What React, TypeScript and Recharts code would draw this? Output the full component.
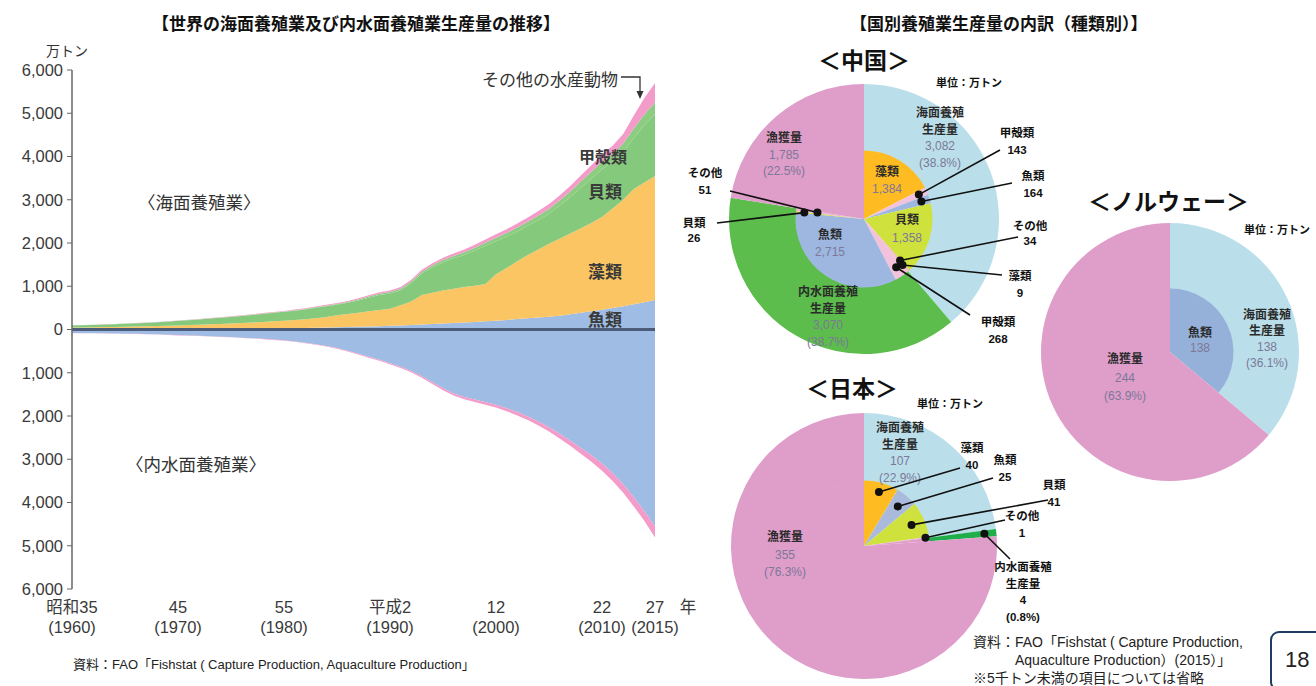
import React from "react";
import { AreaChart, Area, XAxis, YAxis, ReferenceLine, PieChart, Pie, Cell } from "recharts";

const FONT = '"Liberation Sans", Arial, "Noto Sans CJK JP", sans-serif';

// ---- world aquaculture (万トン), 1960-2015 ----
const years = [
  1960, 1961, 1962, 1963, 1964, 1965, 1966, 1967, 1968, 1969,
  1970, 1971, 1972, 1973, 1974, 1975, 1976, 1977, 1978, 1979,
  1980, 1981, 1982, 1983, 1984, 1985, 1986, 1987, 1988, 1989,
  1990, 1991, 1992, 1993, 1994, 1995, 1996, 1997, 1998, 1999,
  2000, 2001, 2002, 2003, 2004, 2005, 2006, 2007, 2008, 2009,
  2010, 2011, 2012, 2013, 2014, 2015,
];
// marine
const seaFish = [
  8, 9, 10, 10, 11, 12, 12, 13, 14, 15,
  16, 17, 18, 19, 21, 22, 24, 25, 27, 29,
  31, 34, 37, 41, 45, 50, 56, 62, 70, 78,
  86, 95, 105, 115, 126, 138, 150, 163, 176, 190,
  205, 222, 240, 258, 276, 295, 320, 350, 385, 420,
  455, 495, 540, 585, 630, 680,
];
const seaweed = [
  37, 39, 42, 46, 49, 53, 58, 63, 68, 73,
  79, 86, 94, 102, 109, 118, 126, 137, 148, 159,
  169, 184, 201, 219, 245, 280, 304, 328, 350, 372,
  394, 465, 545, 685, 724, 762, 790, 817, 834, 860,
  1075, 1198, 1340, 1462, 1574, 1685, 1780, 1870, 1955, 2040,
  2145, 2305, 2460, 2665, 2770, 2870,
];
const shellfish = [
  50, 52, 53, 58, 63, 68, 72, 76, 84, 92,
  105, 110, 121, 131, 141, 150, 163, 176, 186, 197,
  208, 218, 226, 241, 247, 243, 258, 282, 315, 348,
  353, 348, 420, 492, 584, 655, 705, 745, 814, 883,
  762, 730, 688, 676, 683, 698, 760, 838, 935, 1025,
  1105, 1075, 1100, 1180, 1325, 1430,
];
const crustacean = [
  2, 2, 2, 2, 3, 3, 3, 3, 4, 4,
  4, 5, 5, 5, 6, 6, 7, 7, 8, 8,
  9, 10, 11, 12, 14, 16, 19, 22, 26, 30,
  32, 34, 38, 42, 46, 50, 55, 60, 66, 72,
  78, 84, 90, 96, 102, 110, 120, 132, 145, 160,
  175, 185, 200, 220, 245, 270,
];
const seaOther = [
  3, 3, 3, 4, 4, 4, 5, 5, 5, 6,
  6, 7, 7, 8, 8, 9, 10, 10, 11, 12,
  13, 14, 15, 17, 19, 21, 23, 26, 29, 32,
  35, 38, 42, 46, 50, 55, 60, 65, 70, 75,
  80, 86, 92, 98, 105, 112, 120, 130, 140, 155,
  170, 190, 220, 300, 380, 450,
];
// inland (drawn downward)
const inlandFish = [
  -80, -82, -85, -88, -92, -96, -100, -105, -112, -120,
  -130, -138, -146, -155, -165, -175, -188, -200, -215, -232,
  -250, -275, -305, -340, -380, -430, -490, -560, -630, -700,
  -780, -860, -960, -1080, -1220, -1360, -1480, -1560, -1620, -1680,
  -1740, -1820, -1910, -2010, -2130, -2260, -2410, -2570, -2740, -2910,
  -3100, -3320, -3580, -3880, -4200, -4550,
];
const inlandOther = [
  -4, -4, -4, -4, -4, -5, -5, -5, -5, -5,
  -6, -6, -6, -7, -7, -7, -8, -8, -9, -9,
  -10, -11, -12, -13, -14, -15, -17, -19, -21, -23,
  -25, -28, -31, -34, -38, -42, -46, -50, -55, -60,
  -65, -70, -76, -82, -90, -98, -108, -120, -135, -150,
  -165, -180, -195, -210, -230, -260,
];

const yearTicks = [1960, 1970, 1980, 1990, 2000, 2010, 2015];
const eraLabels = ["昭和35", "45", "55", "平成2", "12", "22", "27"];
const valueTicks = [-6000, -5000, -4000, -3000, -2000, -1000, 0, 1000, 2000, 3000, 4000, 5000, 6000];

const trend = years.map((y, i) => ({
  year: y,
  seaFish: seaFish[i],
  seaweed: seaweed[i],
  shellfish: shellfish[i],
  crustacean: crustacean[i],
  seaOther: seaOther[i],
  inlandFish: inlandFish[i],
  inlandOther: inlandOther[i],
}));

// ---- country breakdown (万トン) ----
const totalNames = ["海面養殖\n生産量", "内水面養殖\n生産量", "漁獲量"];
const kinds = ["藻類", "甲殻類", "魚類", "貝類", "その他"];

const chinaTotals = [3082, 3070, 1785];
const chinaPct = ["38.8%", "38.7%", "22.5%"];
const chinaSea = [1384, 143, 164, 1358, 34];
const chinaInland = [9, 268, 2715, 26, 51];

const norwayTotals = [138, 244];
const norwayPct = ["36.1%", "63.9%"];
const norwaySeaKinds = ["魚類"];
const norwaySea = [138];

const japanTotals = [107, 4, 355];
const japanPct = ["22.9%", "0.8%", "76.3%"];
const japanSeaKinds = ["藻類", "魚類", "貝類", "その他"];
const japanSea = [40, 25, 41, 1];

const KIND_COLORS: Record<string, string> = {
  藻類: "#ffbb22",
  甲殻類: "#f2c2dc",
  魚類: "#9db7e0",
  貝類: "#cfe13c",
  その他: "#efb3d4",
};
const SEA_COLOR = "#badfea";
const CATCH_COLOR = "#df9dca";

const fmt = (v: number) => v.toLocaleString("en-US");

type Spot = { dx: number; dy: number; lh?: number; dot?: number; ex?: number; ey?: number; out?: boolean } | null;

const makeLabel = (spots: Spot[], texts: string[][]) => (p: any) => {
  const s = spots[p.index];
  if (!s) return null;
  const lines = texts[p.index] || [];
  const lh = s.lh || 16.5;
  let lead = null;
  if (s.dot) {
    const a = (-p.midAngle * Math.PI) / 180;
    const px = p.cx + s.dot * Math.cos(a);
    const py = p.cy + s.dot * Math.sin(a);
    lead = (
      <g>
        <line x1={px} y1={py} x2={p.cx + (s.ex || 0)} y2={p.cy + (s.ey || 0)} stroke="#111" strokeWidth={1.6} />
        <circle cx={px} cy={py} r={4} fill="#111" />
      </g>
    );
  }
  return (
    <g>
      {lead}
      {lines.map((t, k) => {
        const isNum = /^[\d(]/.test(t);
        return (
          <text
            key={k}
            x={p.cx + s.dx}
            y={p.cy + s.dy + k * lh}
            textAnchor="middle"
            dominantBaseline="central"
            fontSize={s.out ? 11.5 : 12}
            fontWeight={s.out || !isNum ? 700 : 400}
            fill={s.out ? "#111" : isNum ? "#7c7898" : "#2b2b2b"}
            fontFamily={FONT}
          >
            {t}
          </text>
        );
      })}
    </g>
  );
};

// China
const chinaOuter = totalNames.map((n, i) => ({ name: n, value: chinaTotals[i] }));
const chinaInner = [
  ...kinds.map((k, i) => ({ name: k, value: chinaSea[i], color: KIND_COLORS[k] })),
  ...kinds.map((k, i) => ({ name: k, value: chinaInland[i], color: KIND_COLORS[k] })),
  { name: "漁獲量", value: chinaTotals[2], color: CATCH_COLOR },
];
const chinaOuterTexts = totalNames.map((n, i) => [...n.split("\n"), fmt(chinaTotals[i]), `(${chinaPct[i]})`]);
const chinaInnerTexts = chinaInner.map((d) => [d.name, fmt(d.value)]);
const chinaOuterSpots: Spot[] = [
  { dx: 76, dy: -106 },
  { dx: -36, dy: 73 },
  { dx: -80, dy: -81 },
];
const chinaInnerSpots: Spot[] = [
  { dx: 23, dy: -47, lh: 17 },
  { dx: 153, dy: -86, out: true, dot: 60, ex: 136, ey: -69 },
  { dx: 169, dy: -43, out: true, dot: 60, ex: 148, ey: -36 },
  { dx: 43, dy: 1, lh: 18 },
  { dx: 166, dy: 7, lh: 15, out: true, dot: 55, ex: 154, ey: 18 },
  { dx: 156, dy: 57, out: true, dot: 60, ex: 138, ey: 56 },
  { dx: 134, dy: 103, out: true, dot: 58, ex: 106, ey: 96 },
  { dx: -34, dy: 16, lh: 17 },
  { dx: -170, dy: 4, lh: 15, out: true, dot: 60, ex: -147, ey: 4 },
  { dx: -159, dy: -46, lh: 17, out: true, dot: 47, ex: -134, ey: -28 },
  null,
];

// Norway
const norwayOuter = [totalNames[0], totalNames[2]].map((n, i) => ({ name: n, value: norwayTotals[i] }));
const norwayInner = [
  ...norwaySeaKinds.map((k, i) => ({ name: k, value: norwaySea[i], color: "#95b1d9" })),
  { name: "漁獲量", value: norwayTotals[1], color: CATCH_COLOR },
];
const norwayOuterTexts = [totalNames[0], totalNames[2]].map((n, i) => [
  ...n.split("\n"),
  fmt(norwayTotals[i]),
  `(${norwayPct[i]})`,
]);
const norwayInnerTexts = norwayInner.map((d) => [d.name, fmt(d.value)]);
const norwayOuterSpots: Spot[] = [
  { dx: 97, dy: -37, lh: 16 },
  { dx: -45, dy: 7, lh: 18.5 },
];
const norwayInnerSpots: Spot[] = [{ dx: 30, dy: -19, lh: 15 }, null];

// Japan
const japanOuter = totalNames.map((n, i) => ({ name: n, value: japanTotals[i] }));
const japanInner = [
  ...japanSeaKinds.map((k, i) => ({ name: k, value: japanSea[i], color: k === "魚類" ? "#a9badc" : KIND_COLORS[k] })),
  { name: "内水面", value: japanTotals[1], color: CATCH_COLOR },
  { name: "漁獲量", value: japanTotals[2], color: CATCH_COLOR },
];
const japanOuterTexts = totalNames.map((n, i) => [...n.split("\n"), fmt(japanTotals[i]), `(${japanPct[i]})`]);
const japanInnerTexts = japanInner.map((d) => [d.name, fmt(d.value)]);
const japanOuterSpots: Spot[] = [
  { dx: 36, dy: -118 },
  { dx: 159, dy: 21, out: true, dot: 121, ex: 146, ey: 13 },
  { dx: -79, dy: -9, lh: 17.5 },
];
const japanInnerSpots: Spot[] = [
  { dx: 108, dy: -98, out: true, dot: 56, ex: 96, ey: -78 },
  { dx: 141, dy: -86, out: true, dot: 52, ex: 129, ey: -68 },
  { dx: 190, dy: -61, lh: 17, out: true, dot: 52, ex: 184, ey: -46 },
  { dx: 158, dy: -30, lh: 17, out: true, dot: 62, ex: 141, ey: -26 },
  null,
  null,
];

const TICK_STYLE = { fontSize: 16.5, fill: "#3a3a3a", fontFamily: FONT };

const XTick = (p: any) => {
  const i = yearTicks.indexOf(p.payload.value);
  return (
    <g>
      <text x={p.x} y={p.y + 24} textAnchor="middle" {...TICK_STYLE}>
        {eraLabels[i]}
      </text>
      <text x={p.x} y={p.y + 44} textAnchor="middle" {...TICK_STYLE}>
        ({p.payload.value})
      </text>
      {i === yearTicks.length - 1 && (
        <text x={p.x + 33} y={p.y + 24} textAnchor="middle" {...TICK_STYLE}>
          年
        </text>
      )}
    </g>
  );
};

const abs = (p: React.CSSProperties): React.CSSProperties => ({ position: "absolute", whiteSpace: "nowrap", ...p });

function CountryPie(props: {
  left: number; top: number; w: number; h: number; cx: number; cy: number; ri: number; ro: number;
  outer: any[]; outerColors: string[]; inner: any[];
  outerLabel: any; innerLabel: any;
}) {
  return (
    <div style={abs({ left: props.left, top: props.top })}>
      <PieChart width={props.w} height={props.h} margin={{ top: 0, right: 0, bottom: 0, left: 0 }}>
        <Pie
          data={props.outer}
          dataKey="value"
          cx={props.cx}
          cy={props.cy}
          innerRadius={props.ri}
          outerRadius={props.ro}
          startAngle={90}
          endAngle={-270}
          stroke="none"
          isAnimationActive={false}
          labelLine={false}
          label={props.outerLabel}
        >
          {props.outer.map((d, i) => (
            <Cell key={i} fill={props.outerColors[i]} stroke="none" />
          ))}
        </Pie>
        <Pie
          data={props.inner}
          dataKey="value"
          cx={props.cx}
          cy={props.cy}
          innerRadius={0}
          outerRadius={props.ri + 0.5}
          startAngle={90}
          endAngle={-270}
          stroke="none"
          isAnimationActive={false}
          labelLine={false}
          label={props.innerLabel}
        >
          {props.inner.map((d, i) => (
            <Cell key={i} fill={d.color} stroke="none" />
          ))}
        </Pie>
      </PieChart>
    </div>
  );
}

export default function App() {
  const areaLabel = { fontSize: 17, fontWeight: 700, color: "#3a3a3a", fontFamily: FONT };
  return (
    <div style={{ position: "absolute", left: 0, top: 0, width: 1316, height: 686, background: "#fff", fontFamily: FONT, overflow: "hidden" }}>
      {/* titles */}
      <div style={abs({ left: 0, width: 712, top: 10, textAlign: "center", fontSize: 17, fontWeight: 700, color: "#111" })}>
        【世界の海面養殖業及び内水面養殖業生産量の推移】
      </div>
      <div style={abs({ left: 850, top: 10, fontSize: 17, fontWeight: 700, color: "#111" })}>
        【国別養殖業生産量の内訳（種類別）】
      </div>

      {/* trend chart */}
      <div style={abs({ left: 0, top: 0 })}>
        <AreaChart width={700} height={640} data={trend} margin={{ top: 70, right: 45, bottom: 6, left: 4 }}>
          <XAxis
            dataKey="year"
            type="number"
            domain={[1960, 2015]}
            ticks={yearTicks}
            interval={0}
            axisLine={false}
            tickLine={false}
            tickSize={0}
            tickMargin={0}
            height={45}
            tick={<XTick />}
          />
          <YAxis
            type="number"
            domain={[-6000, 6000]}
            ticks={valueTicks}
            interval={0}
            width={68}
            tickSize={5}
            tickMargin={4}
            axisLine={{ stroke: "#666", strokeWidth: 1.5 }}
            tickLine={{ stroke: "#666" }}
            tick={TICK_STYLE}
            tickFormatter={(v: number) => fmt(Math.abs(v))}
          />
          <Area type="linear" dataKey="seaFish" stackId="sea" stroke="none" fill="#9fbce4" fillOpacity={1} isAnimationActive={false} />
          <Area type="linear" dataKey="seaweed" stackId="sea" stroke="none" fill="#fcc563" fillOpacity={1} isAnimationActive={false} />
          <Area type="linear" dataKey="shellfish" stackId="sea" stroke="none" fill="#85c97c" fillOpacity={1} isAnimationActive={false} />
          <Area type="linear" dataKey="crustacean" stackId="sea" stroke="none" fill="#8ccd82" fillOpacity={1} isAnimationActive={false} />
          <Area type="linear" dataKey="seaOther" stackId="sea" stroke="none" fill="#f39cc9" fillOpacity={1} isAnimationActive={false} />
          <Area type="linear" dataKey="inlandFish" stackId="inland" stroke="none" fill="#9fbce4" fillOpacity={1} isAnimationActive={false} />
          <Area type="linear" dataKey="inlandOther" stackId="inland" stroke="none" fill="#f39cc9" fillOpacity={1} isAnimationActive={false} />
          <ReferenceLine y={0} stroke="#4d5c78" strokeWidth={3} />
        </AreaChart>
      </div>
      <div style={abs({ left: 46, top: 40, fontSize: 14, color: "#333" })}>万トン</div>
      <div style={abs({ left: 138, top: 189, fontSize: 17.5, color: "#333" })}>〈海面養殖業〉</div>
      <div style={abs({ left: 126, top: 451, fontSize: 17.5, color: "#333" })}>〈内水面養殖業〉</div>
      <div style={abs({ left: 588, top: 306, ...areaLabel })}>魚類</div>
      <div style={abs({ left: 588, top: 258, ...areaLabel })}>藻類</div>
      <div style={abs({ left: 588, top: 178, ...areaLabel })}>貝類</div>
      <div style={abs({ left: 579, top: 144, ...areaLabel, fontSize: 16 })}>甲殻類</div>
      <div style={abs({ left: 482, top: 66, fontSize: 17, color: "#333" })}>その他の水産動物</div>
      <svg width={1316} height={686} style={{ position: "absolute", left: 0, top: 0, pointerEvents: "none" }}>
        <path d="M 621 77 H 640 V 92" fill="none" stroke="#333" strokeWidth={1.3} />
        <polygon points="636.5,91 643.5,91 640,99" fill="#333" />
      </svg>
      <div style={abs({ left: 73, top: 654, fontSize: 13, color: "#222" })}>
        資料：FAO「Fishstat ( Capture Production, Aquaculture Production」
      </div>

      {/* China */}
      <div style={abs({ left: 818, top: 42, fontSize: 23, fontWeight: 700, color: "#111" })}>＜中国＞</div>
      <div style={abs({ left: 936, top: 74, fontSize: 11, fontWeight: 700, color: "#111" })}>単位：万トン</div>
      <CountryPie
        left={680}
        top={70}
        w={390}
        h={300}
        cx={184}
        cy={149}
        ri={68}
        ro={135}
        outer={chinaOuter}
        outerColors={[SEA_COLOR, "#5cbd4c", CATCH_COLOR]}
        inner={chinaInner}
        outerLabel={makeLabel(chinaOuterSpots, chinaOuterTexts)}
        innerLabel={makeLabel(chinaInnerSpots, chinaInnerTexts)}
      />

      {/* Norway */}
      <div style={abs({ left: 1088, top: 183, fontSize: 23, fontWeight: 700, color: "#111" })}>＜ノルウェー＞</div>
      <div style={abs({ left: 1244, top: 221, fontSize: 11, fontWeight: 700, color: "#111" })}>単位：万トン</div>
      <CountryPie
        left={1030}
        top={215}
        w={286}
        h={275}
        cx={140}
        cy={137}
        ri={63}
        ro={129}
        outer={norwayOuter}
        outerColors={[SEA_COLOR, CATCH_COLOR]}
        inner={norwayInner}
        outerLabel={makeLabel(norwayOuterSpots, norwayOuterTexts)}
        innerLabel={makeLabel(norwayInnerSpots, norwayInnerTexts)}
      />

      {/* Japan */}
      <div style={abs({ left: 806, top: 370, fontSize: 23, fontWeight: 700, color: "#111" })}>＜日本＞</div>
      <div style={abs({ left: 917, top: 395, fontSize: 11, fontWeight: 700, color: "#111" })}>単位：万トン</div>
      <CountryPie
        left={690}
        top={395}
        w={420}
        h={291}
        cx={174}
        cy={151}
        ri={65}
        ro={133}
        outer={japanOuter}
        outerColors={[SEA_COLOR, "#1fae4a", CATCH_COLOR]}
        inner={japanInner}
        outerLabel={makeLabel(japanOuterSpots, japanOuterTexts)}
        innerLabel={makeLabel(japanInnerSpots, japanInnerTexts)}
      />

      <div style={abs({ left: 973, top: 633, fontSize: 14, color: "#222", lineHeight: "18px" })}>
        資料：FAO「Fishstat ( Capture Production,
        <br />
        <span style={{ paddingLeft: 42 }}>Aquaculture Production）(2015）」</span>
        <br />
        ※5千トン未満の項目については省略
      </div>
      <div
        style={abs({
          left: 1270,
          top: 631,
          width: 56,
          height: 60,
          border: "2px solid #1f3b63",
          borderRadius: 9,
          boxSizing: "border-box",
          fontSize: 22,
          color: "#222",
          paddingLeft: 13,
          paddingTop: 14,
        })}
      >
        18
      </div>
    </div>
  );
}
